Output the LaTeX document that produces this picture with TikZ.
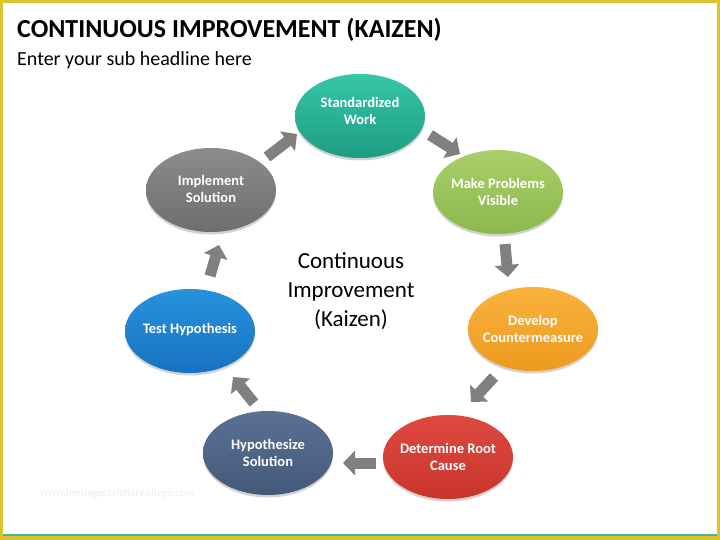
\documentclass[tikz,border=0pt]{standalone}
\usepackage{fontspec}
\setmainfont{Carlito}
\usetikzlibrary{shapes.geometric,shadows,arrows.meta,calc}
\definecolor{frameY}{HTML}{DCC232}
\definecolor{lineT}{HTML}{3DB8A3}
\definecolor{arrG}{HTML}{808080}
\definecolor{swT}{HTML}{36C6A8}\definecolor{swB}{HTML}{1E9C84}
\definecolor{mpT}{HTML}{AACF6A}\definecolor{mpB}{HTML}{8BB84C}
\definecolor{dcT}{HTML}{F9B23E}\definecolor{dcB}{HTML}{EE9A1E}
\definecolor{drT}{HTML}{DE4A40}\definecolor{drB}{HTML}{C9342B}
\definecolor{hsT}{HTML}{5A7193}\definecolor{hsB}{HTML}{44597A}
\definecolor{thT}{HTML}{2892DD}\definecolor{thB}{HTML}{1672C2}
\definecolor{isT}{HTML}{8C8C8C}\definecolor{isB}{HTML}{6E6E6E}
\tikzset{
  stage/.style={ellipse, minimum width=130pt, minimum height=84pt, inner sep=0pt,
    drop shadow={shadow xshift=0pt, shadow yshift=-2.5pt, opacity=0.35}},
  stagetext/.style={text=white, font=\fontsize{14.5}{17}\selectfont\bfseries, align=center, inner sep=0pt},
  flow/.style={draw=arrG, line width=11pt, line cap=butt,
    -{Triangle[width=24pt,length=12pt]}},
}
\begin{document}
\begin{tikzpicture}[x=1pt,y=-1pt]
\useasboundingbox (0,0) rectangle (720,540);
\fill[white] (0,0) rectangle (720,540);
% frame
\draw[frameY, line width=3pt] (1.5,1.5) rectangle (718.5,538.5);
\fill[frameY] (0,536) rectangle (720,540);
\fill[lineT] (3,533.5) rectangle (717,536);
% titles
\node[anchor=base west, font=\fontsize{26}{30}\selectfont\bfseries, inner sep=0pt] (title) at (17,38) {CONTINUOUS IMPROVEMENT (KAIZEN)};
\node[anchor=base west, font=\fontsize{20}{24}\selectfont, inner sep=0pt] (sub) at (17,66) {Enter your sub headline here};
% watermark
\node[anchor=west, font=\fontsize{11}{12}\selectfont, text=black!7, inner sep=0pt] (wm) at (40,494) {www.heritagechristiancollege.com};
% stages
\node[stage, top color=swT, bottom color=swB] (sw) at (360,116) {};
\node[stage, top color=mpT, bottom color=mpB] (mp) at (498,192) {};
\node[stage, top color=dcT, bottom color=dcB] (dc) at (533,329) {};
\node[stage, top color=drT, bottom color=drB] (dr) at (448,457) {};
\node[stage, top color=hsT, bottom color=hsB] (hs) at (268,453) {};
\node[stage, top color=thT, bottom color=thB] (th) at (190,331) {};
\node[stage, top color=isT, bottom color=isB] (is) at (211,190) {};
\node[stagetext] (swt) at (360,111) {Standardized\\Work};
\node[stagetext] (mpt) at (498,192) {Make Problems\\Visible};
\node[stagetext] (dct) at (533,329) {Develop\\Countermeasure};
\node[stagetext] (drt) at (448,457) {Determine Root\\Cause};
\node[stagetext] (hst) at (268,453) {Hypothesize\\Solution};
\node[stagetext] (tht) at (190,330) {Test Hypothesis};
\node[stagetext] (ist) at (211,189) {Implement\\Solution};
% centre
\node[font=\fontsize{23}{29}\selectfont, align=center] (ctr) at (351,291) {Continuous\\Improvement\\(Kaizen)};
% arrows
\coordinate (a1s) at (267,157); \coordinate (a1e) at (297,134);
\coordinate (a2s) at (430,135); \coordinate (a2e) at (460,154);
\coordinate (a3s) at (505,244); \coordinate (a3e) at (508,277);
\coordinate (a4s) at (494,377); \coordinate (a4e) at (471,402);
\coordinate (a5s) at (376,463); \coordinate (a5e) at (343,463);
\coordinate (a6s) at (254,403); \coordinate (a6e) at (233,377);
\coordinate (a7s) at (210,276); \coordinate (a7e) at (219,245);
\draw[flow] (a1s) -- (a1e);
\draw[flow] (a2s) -- (a2e);
\draw[flow] (a3s) -- (a3e);
\draw[flow] (a4s) -- (a4e);
\draw[flow] (a5s) -- (a5e);
\draw[flow] (a6s) -- (a6e);
\draw[flow] (a7s) -- (a7e);
\end{tikzpicture}
\end{document}
